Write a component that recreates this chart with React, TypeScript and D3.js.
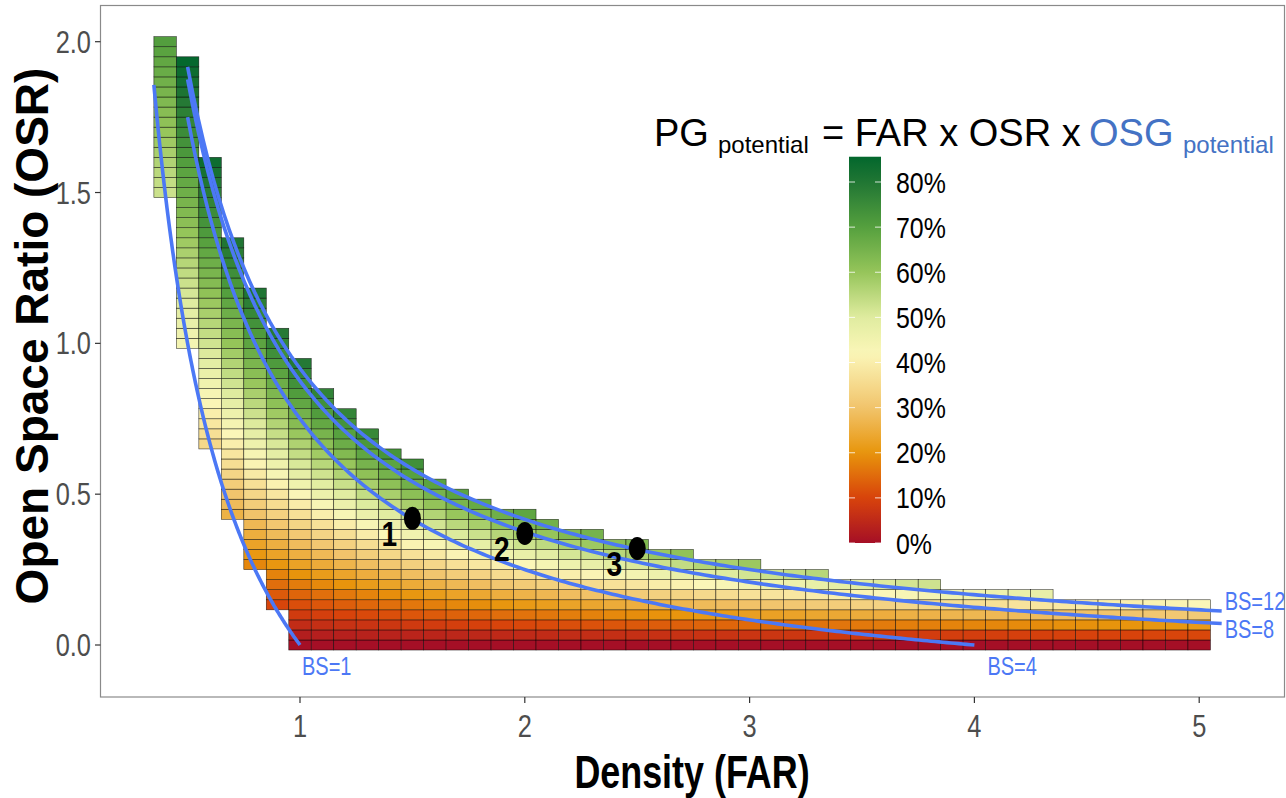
import React from 'react';
import * as d3 from 'd3';

// ---------- data ----------
const FAR_COLUMNS = [0.4, 0.5, 0.6, 0.7, 0.8, 0.9, 1.0, 1.1, 1.2, 1.3, 1.4, 1.5, 1.6, 1.7, 1.8, 1.9, 2.0, 2.1, 2.2, 2.3, 2.4, 2.5, 2.6, 2.7, 2.8, 2.9, 3.0, 3.1, 3.2, 3.3, 3.4, 3.5, 3.6, 3.7, 3.8, 3.9, 4.0, 4.1, 4.2, 4.3, 4.4, 4.5, 4.6, 4.7, 4.8, 4.9, 5.0];
// OSR rows are in steps of 1/30
const OSR_ROW_STEP = 1 / 30;
const OSR_TOP_ROW = [60, 58, 48, 40, 35, 31, 28, 25, 23, 21, 19, 18, 16, 15, 14, 13, 13, 12, 11, 11, 10, 10, 9, 9, 8, 8, 8, 7, 7, 7, 6, 6, 6, 6, 6, 5, 5, 5, 5, 5, 4, 4, 4, 4, 4, 4, 4];
const OSR_BOTTOM_ROW = [45, 30, 20, 13, 8, 4, 0, 0, 0, 0, 0, 0, 0, 0, 0, 0, 0, 0, 0, 0, 0, 0, 0, 0, 0, 0, 0, 0, 0, 0, 0, 0, 0, 0, 0, 0, 0, 0, 0, 0, 0, 0, 0, 0, 0, 0, 0];
const OSG_POTENTIAL = [0.88, 0.88, 0.87, 0.86, 0.86, 0.85, 0.85, 0.84, 0.83, 0.83, 0.82, 0.82, 0.81, 0.81, 0.80, 0.80, 0.79, 0.78, 0.78, 0.77, 0.77, 0.76, 0.76, 0.75, 0.75, 0.74, 0.74, 0.73, 0.72, 0.72, 0.71, 0.71, 0.70, 0.70, 0.69, 0.69, 0.68, 0.67, 0.67, 0.66, 0.66, 0.65, 0.65, 0.64, 0.64, 0.63, 0.63];

const BS_VALUES = [1, 4, 8, 12];
const BS_FAR_START = [0.35, 0.5, 0.5, 0.5];
const BS_FAR_END = [1.0, 4.0, 5.1, 5.1];
const BS_LABELS = ['BS=1', 'BS=4', 'BS=8', 'BS=12'];

const POINT_FAR = [1.5, 2.0, 2.5];
const POINT_OSR = [0.42, 0.37, 0.32];
const POINT_LABELS = ['1', '2', '3'];

const X_TICKS = [1, 2, 3, 4, 5];
const Y_TICKS = [0, 0.5, 1.0, 1.5, 2.0];
const LEGEND_TICKS = [0, 0.1, 0.2, 0.3, 0.4, 0.5, 0.6, 0.7, 0.8];
const LEGEND_MAX = 0.856;

const COLOR_STOPS = [0, 0.1, 0.2, 0.3, 0.42, 0.5, 0.6, 0.7, 0.8, 0.86];
const COLOR_VALUES = ['#a50f26', '#d8430b', '#e8950c', '#f1c46c', '#fbf6b8', '#e0eca0', '#96c55a', '#55a03e', '#217634', '#00662d'];

// ---------- layout ----------
const W = 1286;
const H = 798;
const FONT = "'Liberation Sans', Arial, Helvetica, sans-serif";
const LINE_BLUE = '#4c78f5';
const TITLE_BLUE = '#4472c4';

const xS = d3.scaleLinear().domain([1, 5]).range([300, 1199.2]);
const yS = d3.scaleLinear().domain([0, 2]).range([645, 41.7]);
const color = d3.scaleLinear<string>().domain(COLOR_STOPS).range(COLOR_VALUES).interpolate(d3.interpolateRgb).clamp(true);
const yL = d3.scaleLinear().domain([0, 0.8]).range([543, 182]);

function T(props: any) {
  const { x, y, sx = 1, rotate = 0, anchor = 'start', size, weight = 'normal', fill = '#000', children } = props;
  return (
    <text
      transform={`translate(${x},${y}) rotate(${rotate}) scale(${sx},1)`}
      textAnchor={anchor}
      fontSize={size}
      fontWeight={weight}
      fill={fill}
      fontFamily={FONT}
    >
      {children}
    </text>
  );
}

export default function App() {
  const cells: any[] = [];
  FAR_COLUMNS.forEach((f, i) => {
    for (let k = OSR_BOTTOM_ROW[i]; k <= OSR_TOP_ROW[i]; k++) {
      const osr = k * OSR_ROW_STEP;
      const pg = f * osr * OSG_POTENTIAL[i];
      const x0 = xS(f - 0.05);
      const x1 = xS(f + 0.05);
      const y0 = yS(osr + OSR_ROW_STEP / 2);
      const y1 = yS(osr - OSR_ROW_STEP / 2);
      cells.push(
        <rect key={`${i}-${k}`} x={x0} y={y0} width={x1 - x0} height={y1 - y0}
          fill={color(pg)} stroke="#000" strokeWidth={0.6} strokeOpacity={0.75} />
      );
    }
  });

  const line = d3.line<number[]>().x(d => xS(d[0])).y(d => yS(d[1])).curve(d3.curveLinear);
  const curves = BS_VALUES.map((bs, i) => {
    const n = 200;
    const pts = d3.range(n + 1).map(j => {
      const f = BS_FAR_START[i] + (BS_FAR_END[i] - BS_FAR_START[i]) * j / n;
      return [f, 1 / f - 1 / bs];
    });
    return pts;
  });
  // label anchors (layout): offsets in pixels from the curve end
  const labelOffsets = [[2, 30], [13, 30], [3, 14], [3, -1]];

  const gradStops = d3.range(0, 51).map(j => {
    const v = (LEGEND_MAX * j) / 50;
    return <stop key={j} offset={`${(j / 50) * 100}%`} stopColor={color(v)} />;
  });

  const barX = 849;
  const barW = 32;

  return (
    <svg width={W} height={H} style={{ position: 'absolute', left: 0, top: 0, background: '#fff' }}>
      <defs>
        <linearGradient id="lg" x1="0" y1="1" x2="0" y2="0">{gradStops}</linearGradient>
      </defs>
      <rect x={0} y={0} width={W} height={H} fill="#fff" />
      {/* panel border */}
      <rect x={100.5} y={5.5} width={1184} height={691.5} fill="none" stroke="#8a8a8a" strokeWidth={1.2} />

      {/* tiles */}
      <g>{cells}</g>

      {/* curves */}
      {curves.map((pts, i) => (
        <path key={i} d={line(pts) as string} fill="none" stroke={LINE_BLUE} strokeWidth={3.6} strokeLinecap="butt" />
      ))}
      {curves.map((pts, i) => {
        const end = pts[pts.length - 1];
        return (
          <T key={'l' + i} x={xS(end[0]) + labelOffsets[i][0]} y={yS(end[1]) + labelOffsets[i][1]} size={25} sx={0.8} fill={LINE_BLUE}>
            {BS_LABELS[i]}
          </T>
        );
      })}

      {/* points */}
      {POINT_FAR.map((f, i) => (
        <g key={'p' + i}>
          <ellipse cx={xS(f)} cy={yS(POINT_OSR[i])} rx={8.5} ry={11.5} fill="#000" />
          <T x={xS(f) - 23} y={yS(POINT_OSR[i]) + 28} anchor="middle" size={36} sx={0.78} weight="bold">{POINT_LABELS[i]}</T>
        </g>
      ))}

      {/* y axis ticks */}
      {Y_TICKS.map(t => (
        <g key={'y' + t}>
          <line x1={95} x2={100.5} y1={yS(t)} y2={yS(t)} stroke="#333" strokeWidth={1.2} />
          <T x={91} y={yS(t) + 11} anchor="end" size={31} sx={0.82} fill="#4d4d4d">{t.toFixed(1)}</T>
        </g>
      ))}
      {/* x axis ticks */}
      {X_TICKS.map(t => (
        <g key={'x' + t}>
          <line x1={xS(t)} x2={xS(t)} y1={697} y2={703} stroke="#333" strokeWidth={1.2} />
          <T x={xS(t)} y={737} anchor="middle" size={31} sx={0.82} fill="#4d4d4d">{String(t)}</T>
        </g>
      ))}

      {/* axis titles */}
      <T x={692} y={788} anchor="middle" size={46} sx={0.78} weight="bold">Density (FAR)</T>
      <T x={48} y={336} rotate={-90} anchor="middle" size={46} sx={1.0} weight="bold">Open Space Ratio (OSR)</T>

      {/* legend title */}
      <T x={654} y={146} size={38}>PG</T>
      <T x={718} y={153} size={24}>potential</T>
      <T x={822} y={146} size={38}>= FAR x OSR x</T>
      <T x={1089} y={146} size={38} fill={TITLE_BLUE}>OSG</T>
      <T x={1183} y={153} size={24} fill={TITLE_BLUE}>potential</T>

      {/* legend bar */}
      <rect x={barX} y={yL(LEGEND_MAX)} width={barW} height={yL(0) - yL(LEGEND_MAX)} fill="url(#lg)" />
      {LEGEND_TICKS.map(v => (
        <g key={'lt' + v}>
          <line x1={barX} x2={barX + 6} y1={yL(v)} y2={yL(v)} stroke="#fff" strokeOpacity={0.8} strokeWidth={1} />
          <line x1={barX + barW - 6} x2={barX + barW} y1={yL(v)} y2={yL(v)} stroke="#fff" strokeOpacity={0.8} strokeWidth={1} />
          <T x={896} y={yL(v) + 10.5} size={29} sx={0.86}>{`${Math.round(v * 100)}%`}</T>
        </g>
      ))}
    </svg>
  );
}
